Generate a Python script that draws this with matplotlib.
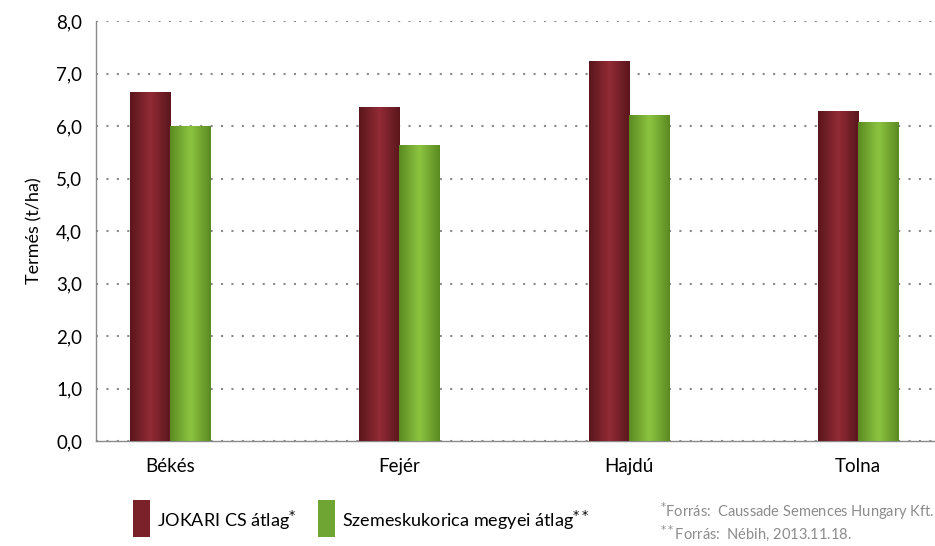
import numpy as np
import matplotlib
matplotlib.use('Agg')
import matplotlib.pyplot as plt
from matplotlib.colors import LinearSegmentedColormap

plt.rcParams['font.family'] = ['Lato', 'DejaVu Sans']

# adatok
megyek = ['Békés', 'Fejér', 'Hajdú', 'Tolna']
jokari = [6.65, 6.36, 7.24, 6.29]
megyei = [6.00, 5.64, 6.21, 6.08]
y_ticks = [0, 1, 2, 3, 4, 5, 6, 7, 8]
y_labels = ['0,0', '1,0', '2,0', '3,0', '4,0', '5,0', '6,0', '7,0', '8,0']

fig = plt.figure(figsize=(9.35, 5.46), dpi=100)
ax = fig.add_axes([96/935, 105/546, 839/935, 420/546])

x = np.arange(len(megyek))
w = 0.175
b1 = ax.bar(x - w/2, jokari, w, color='#7d2129', zorder=3)
b2 = ax.bar(x + w/2, megyei, w, color='#78b135', zorder=3)

# oszlopok színátmenete
cm_red = LinearSegmentedColormap.from_list('r', ['#5a161c', '#922b35', '#5a161c'])
cm_green = LinearSegmentedColormap.from_list('g', ['#5b8a22', '#8cc540', '#5b8a22'])
grad = np.linspace(0, 1, 64).reshape(1, -1)
for bars, cmap in [(b1, cm_red), (b2, cm_green)]:
    for p in bars:
        x0, y0 = p.get_x(), p.get_y()
        im = ax.imshow(grad, cmap=cmap, aspect='auto', zorder=3,
                       extent=[x0, x0 + p.get_width(), y0, y0 + p.get_height()])
        im.set_clip_path(p)

ax.set_xlim(-0.323, 3.336)
ax.set_ylim(0, 8)
ax.set_yticks(y_ticks)
ax.set_yticklabels(y_labels, fontsize=13.5)
ax.set_xticks(x)
ax.set_xticklabels(megyek, fontsize=13.5)
ax.tick_params(axis='both', length=0, pad=10)
ax.tick_params(axis='x', pad=12)
ax.yaxis.grid(True, linestyle=(0, (1, 4)), color='#8a8a8a', linewidth=1.5, zorder=0)
ax.set_axisbelow(True)
for s in ['top', 'right']:
    ax.spines[s].set_visible(False)
for s in ['left', 'bottom']:
    ax.spines[s].set_color('#8a8a8a')
    ax.spines[s].set_linewidth(1)
ax.set_ylabel('Termés (t/ha)', fontsize=13, labelpad=10)

# jelmagyarázat
fig.patches.append(plt.Rectangle((133/935, 9/546), 17/935, 37/546, transform=fig.transFigure,
                                 facecolor='#7a2129', edgecolor='none'))
fig.patches.append(plt.Rectangle((318/935, 9/546), 17/935, 37/546, transform=fig.transFigure,
                                 facecolor='#6fa532', edgecolor='none'))
fig.text(157/935, 26/546, 'JOKARI CS átlag$^{*}$', fontsize=13, va='center')
fig.text(342/935, 26/546, 'Szemeskukorica megyei átlag$^{**}$', fontsize=13, va='center')

fig.text(934/935, 24/546, '$^{*}$Forrás:  Caussade Semences Hungary Kft.', fontsize=10.5,
         color='#8c8c8c', ha='right', va='bottom')
fig.text(660/935, 3/546, '$^{**}$Forrás:  Nébih, 2013.11.18.', fontsize=10.5,
         color='#8c8c8c', ha='left', va='bottom')

fig.savefig('out.png', dpi=100)
